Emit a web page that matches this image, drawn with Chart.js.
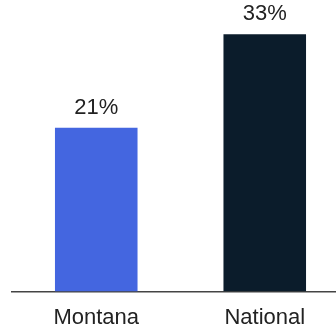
<!DOCTYPE html>
<html>
<head>
<meta charset="utf-8">
<script src="https://cdn.jsdelivr.net/npm/chart.js@4/dist/chart.umd.min.js"></script>
<style>
  html, body { margin: 0; padding: 0; background: #fff; overflow: hidden; }
  #wrap { position: relative; width: 350px; height: 329px; }
</style>
</head>
<body>
<div id="wrap"><canvas id="shareChart"></canvas></div>
<script>
const categories = ["Montana", "National"];
const shares = [21, 33];
const barColors = ["#4466e0", "#0b1c2b"];

// draws the percentage above each bar
const valueLabels = {
    id: "valueLabels",
    afterDatasetsDraw(chart) {
        const ctx = chart.ctx;
        const meta = chart.getDatasetMeta(0);
        ctx.save();
        ctx.fillStyle = "#222";
        ctx.font = "22px 'Liberation Sans', Arial, sans-serif";
        ctx.textAlign = "center";
        ctx.textBaseline = "bottom";
        meta.data.forEach((bar, i) => {
            ctx.fillText(shares[i] + "%", bar.x, bar.y - 9);
        });
        ctx.restore();
    }
};

document.addEventListener("DOMContentLoaded", function () {
    const ctx = document.getElementById("shareChart").getContext("2d");

    new Chart(ctx, {
        type: "bar",
        data: {
            labels: categories,
            datasets: [{
                data: shares,
                backgroundColor: barColors,
                borderWidth: 0,
                barPercentage: 0.49,
                categoryPercentage: 1
            }]
        },
        options: {
            responsive: true,
            maintainAspectRatio: false,
            animation: false,
            layout: { padding: { left: 12, right: 1, top: 0, bottom: -7 } },
            plugins: {
                legend: { display: false },
                tooltip: { enabled: false }
            },
            scales: {
                y: {
                    display: false,
                    min: 0,
                    max: 37.4
                },
                x: {
                    grid: { display: false },
                    border: { display: true, color: "#444", width: 1.5 },
                    ticks: {
                        color: "#222",
                        padding: 5,
                        font: { family: "'Liberation Sans', Arial, sans-serif", size: 22 }
                    }
                }
            }
        },
        plugins: [valueLabels]
    });
});
</script>
</body>
</html>
